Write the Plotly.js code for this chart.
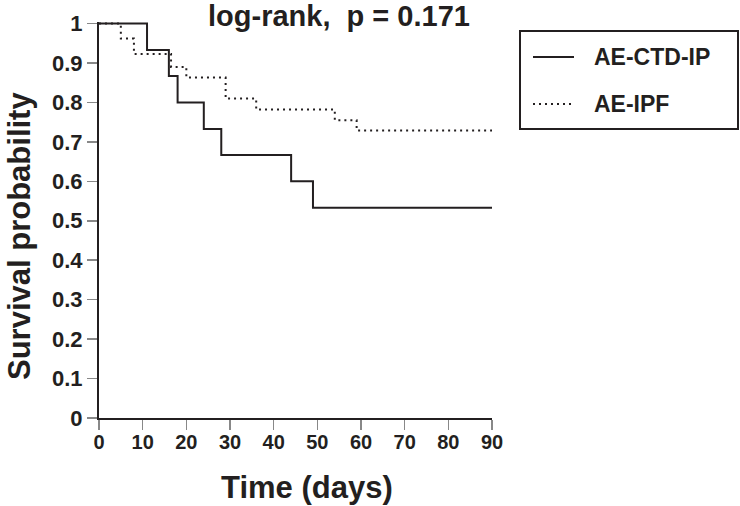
<!DOCTYPE html>
<html>
<head>
<meta charset="utf-8">
<script src="https://cdn.plot.ly/plotly-3.0.1.min.js"></script>
<style>html,body{margin:0;padding:0;background:#fff;}#chart{width:740px;height:506px;}</style>
</head>
<body>
<div id="chart"></div>
<script>
// Kaplan-Meier step data
var ctdDays = [0, 11, 16, 18, 24, 28, 44, 49, 90];
var ctdSurv = [1, 0.933, 0.867, 0.8, 0.733, 0.667, 0.6, 0.533, 0.533];
var ipfDays = [0, 5, 8, 16.5, 20, 29, 36, 54, 59, 90];
var ipfSurv = [1, 0.962, 0.923, 0.89, 0.863, 0.81, 0.782, 0.755, 0.729, 0.729];
var seriesNames = ["AE-CTD-IP", "AE-IPF"];
var titleText = "log-rank,  p = 0.171";
var xTitle = "Time (days)";
var yTitle = "Survival probability";
var xTicks = [0, 10, 20, 30, 40, 50, 60, 70, 80, 90];
var yTicks = [0, 0.1, 0.2, 0.3, 0.4, 0.5, 0.6, 0.7, 0.8, 0.9, 1];
var yTickText = ["0", "0.1", "0.2", "0.3", "0.4", "0.5", "0.6", "0.7", "0.8", "0.9", "1"];

var FONT = "Liberation Sans, Arial, Helvetica, sans-serif";
var INK = "#231f20";

var traces = [
  {x: ctdDays, y: ctdSurv, name: seriesNames[0], mode: "lines",
   line: {shape: "hv", color: INK, width: 2}},
  {x: ipfDays, y: ipfSurv, name: seriesNames[1], mode: "lines",
   line: {shape: "hv", color: INK, width: 2, dash: "2px,4px"}}
];

// paper coordinates helpers (plot area: x 99..492, y 22..418)
var W = 393, H = 396;
function px(v){ return (v - 99) / W; }
function py(v){ return (418 - v) / H; }

var shapes = [
  {type: "rect", xref: "paper", yref: "paper", x0: px(520), x1: px(738), y0: py(129), y1: py(31),
   line: {color: INK, width: 2}, fillcolor: "rgba(0,0,0,0)"},
  {type: "line", xref: "paper", yref: "paper", x0: px(533), x1: px(574), y0: py(57), y1: py(57),
   line: {color: INK, width: 2}},
  {type: "line", xref: "paper", yref: "paper", x0: px(533), x1: px(574), y0: py(104), y1: py(104),
   line: {color: INK, width: 2, dash: "2px,4px"}}
];

var annotations = [
  {xref: "paper", yref: "paper", x: px(592), y: py(57), xanchor: "left", yanchor: "middle",
   text: seriesNames[0], showarrow: false, font: {family: FONT, size: 23, color: INK, weight: "bold"}},
  {xref: "paper", yref: "paper", x: px(592), y: py(104), xanchor: "left", yanchor: "middle",
   text: seriesNames[1], showarrow: false, font: {family: FONT, size: 23, color: INK, weight: "bold"}},
  {xref: "paper", yref: "paper", x: px(307), y: py(487), xanchor: "center", yanchor: "middle",
   text: xTitle, showarrow: false, font: {family: FONT, size: 31, color: INK, weight: "bold"}},
  {xref: "paper", yref: "paper", x: px(19), y: py(236), xanchor: "center", yanchor: "middle",
   textangle: -90, text: yTitle, showarrow: false, font: {family: FONT, size: 31, color: INK, weight: "bold"}},
  {xref: "paper", yref: "paper", x: px(339), y: py(16), xanchor: "center", yanchor: "middle",
   text: titleText, showarrow: false, font: {family: FONT, size: 29, color: INK, weight: "bold"}}
];

var layout = {
  width: 740, height: 506,
  margin: {l: 99, r: 248, t: 22, b: 88, pad: 0},
  paper_bgcolor: "#fff", plot_bgcolor: "#fff",
  showlegend: false,
  xaxis: {range: [0, 90], tickvals: xTicks, ticktext: xTicks.map(String),
          showgrid: false, zeroline: false, showline: true, linecolor: INK, linewidth: 2,
          ticks: "outside", ticklen: 10, tickwidth: 1.5, tickcolor: "#888",
          ticklabelstandoff: -5,
          tickfont: {family: FONT, size: 20, color: INK, weight: "bold"}},
  yaxis: {range: [0, 1.004], tickvals: yTicks, ticktext: yTickText,
          showgrid: false, zeroline: false, showline: true, linecolor: INK, linewidth: 2,
          ticks: "outside", ticklen: 10, tickwidth: 1.5, tickcolor: "#888",
          tickfont: {family: FONT, size: 22, color: INK, weight: "bold"}},
  shapes: shapes,
  annotations: annotations
};

Plotly.newPlot("chart", traces, layout, {displayModeBar: false, staticPlot: true});
</script>
</body>
</html>
